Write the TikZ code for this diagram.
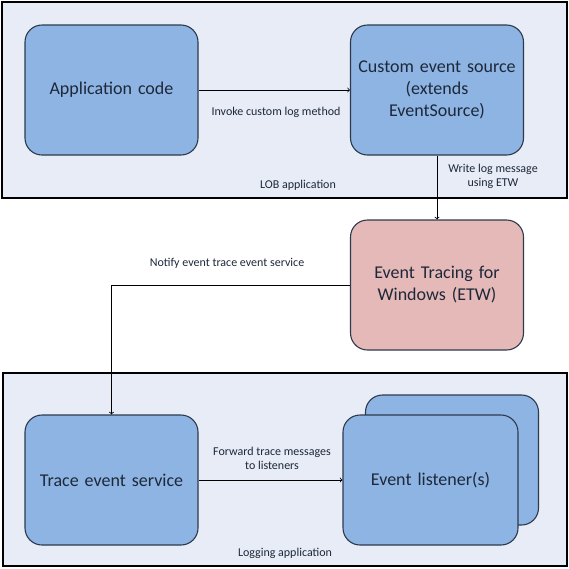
\documentclass[tikz,border=0pt]{standalone}
\usepackage{fontspec}
\setmainfont{Carlito}
\usetikzlibrary{positioning}
\tikzset{>=to}
\definecolor{frameFill}{RGB}{231,236,246}
\definecolor{boxFill}{RGB}{141,180,226}
\definecolor{etwFill}{RGB}{229,185,183}
\definecolor{penColor}{RGB}{45,58,78}
\definecolor{txtColor}{RGB}{30,40,58}
\tikzset{
  block/.style={draw=penColor,line width=1.1pt,rounded corners=17pt,fill=boxFill,
    minimum width=173pt,minimum height=130pt,inner sep=2pt,text width=160pt,align=center,
    text=txtColor,font=\fontsize{18}{22}\selectfont},
  area/.style={draw=black,line width=1.6pt,fill=frameFill},
  note/.style={align=center,text=txtColor,inner sep=0pt,font=\fontsize{12}{14}\selectfont},
  link/.style={->,line width=0.8pt}
}

\begin{document}
\begin{tikzpicture}[x=1pt,y=-1pt]
		\useasboundingbox (0,0) rectangle (569,568);
		\draw[area] (2,2) rectangle (567,198);% LOB application
		\draw[area] (3,373) rectangle (567,566);% logging application
		
		\node[block] (app) at (111.5,90) {Application code};
		\node[block] (src) at (437,90) {Custom event source\\(extends\\EventSource)};
		\node[block,fill=etwFill] (etw) at (437,285) {Event Tracing for\\Windows (ETW)};
		\node[block] (trace) at (111.5,480) {Trace event service};
		\node[block] (lstback) at (452,460) {};
		\node[block,minimum width=175pt] (lst) at (430.5,480) {Event listener(s)};
		
		\draw[link] (app.east) -- (src.west);
		\draw[link] (src.south) -- (etw.north);
		\draw[link] (etw.west) -| (trace.north);
		\draw[link] (trace.east) -- (lst.west);
		
		\node[note] (invoke) at (276,112) {Invoke custom log method};
		\node[note] (lob) at (298,185) {LOB application};
		\node[note] (write) at (493,176.5) {Write log message\\using ETW};
		\node[note] (notify) at (227,263) {Notify event trace event service};
		\node[note] (forward) at (272,458.5) {Forward trace messages\\to listeners};
		\node[note] (logging) at (285,553) {Logging application};
\end{tikzpicture}
\end{document}
